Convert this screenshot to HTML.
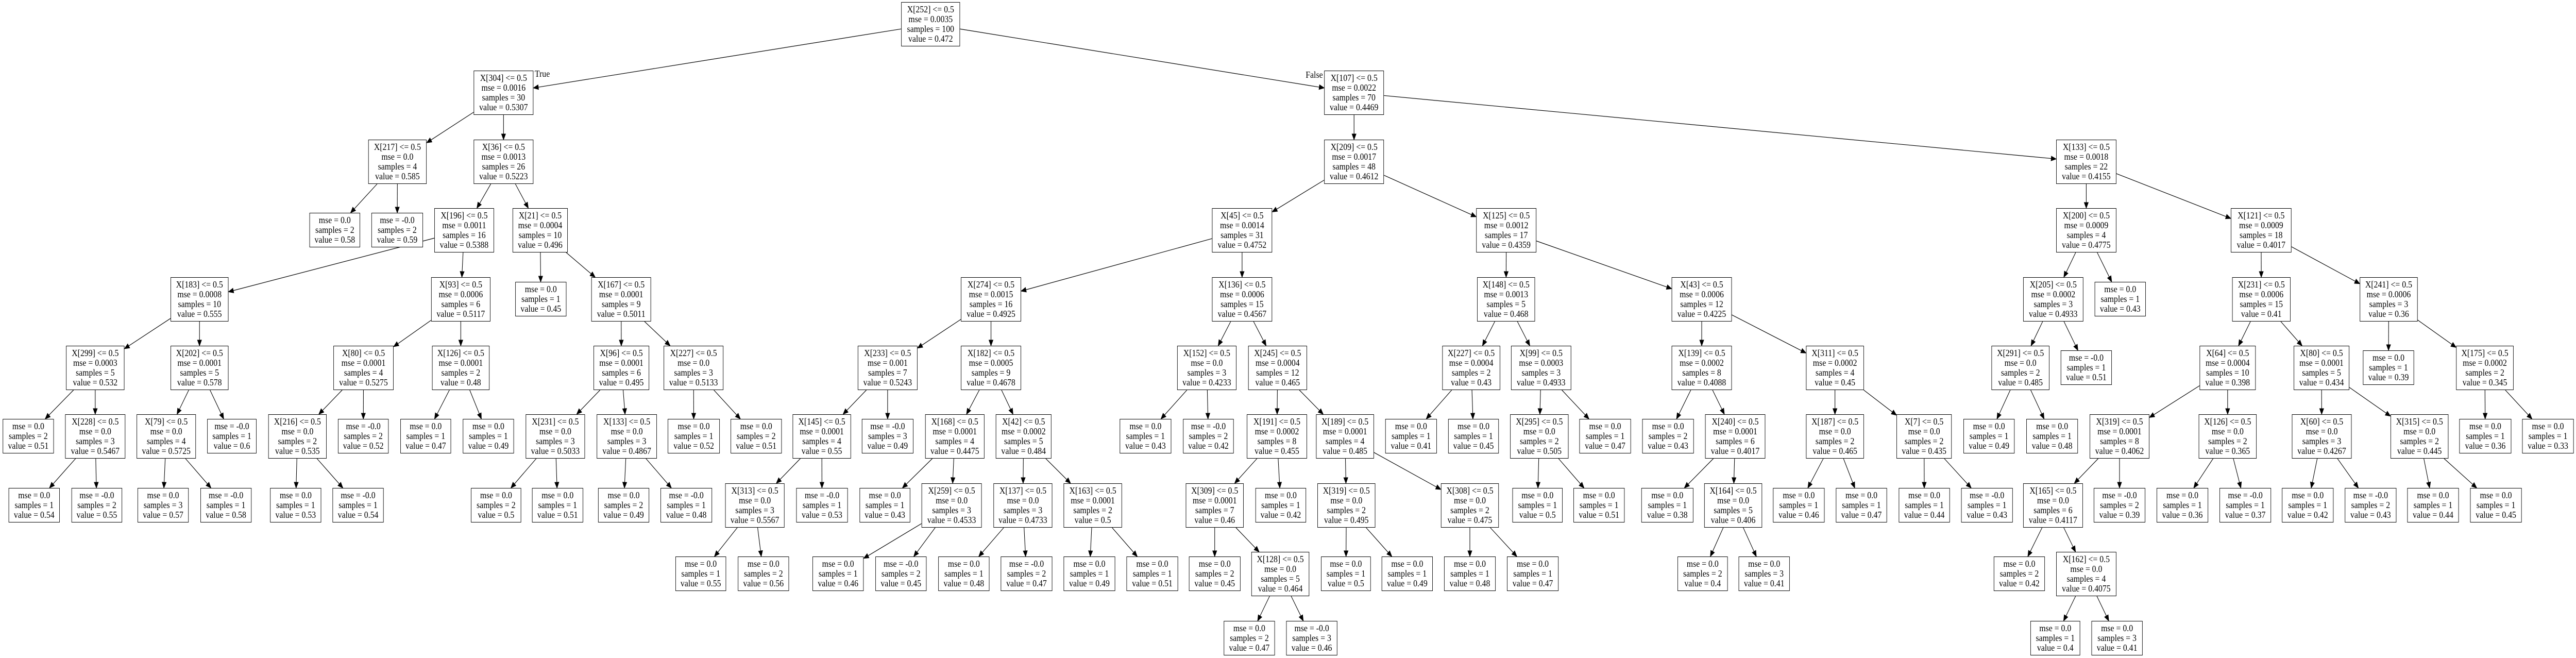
<!DOCTYPE html>
<html><head><meta charset="utf-8">
<style>
html,body{margin:0;padding:0;background:#fff;overflow:hidden}
#w{position:absolute;left:0;top:0;width:5694px;height:1277px;transform-origin:0 0;overflow:hidden;background:#fff}
.n{position:absolute;box-sizing:border-box;border:1.3px solid #000;height:86px;display:flex;align-items:center;justify-content:center;text-align:center;font:18px/19px "Liberation Serif",serif;white-space:nowrap;color:#000;background:#fff;overflow:hidden}
.l{height:67px}
.t{position:absolute;font:18px/19px "Liberation Serif",serif;white-space:nowrap}
svg{position:absolute;left:0;top:0}
</style></head><body>
<div id="w">
<svg id="s" width="5694" height="1277"></svg>
<div class="t" style="left:1182px;top:134px">True</div>
<div class="t" style="left:2886px;top:136px">False</div>

<div class="n" id="r" style="left:1992px;top:4px;width:130px">X[252] &lt;= 0.5<br>mse = 0.0035<br>samples = 100<br>value = 0.472</div>
<div class="n" id="a" style="left:1047px;top:137px;width:132px">X[304] &lt;= 0.5<br>mse = 0.0016<br>samples = 30<br>value = 0.5307</div>
<div class="n" id="b" style="left:2927px;top:137px;width:132px">X[107] &lt;= 0.5<br>mse = 0.0022<br>samples = 70<br>value = 0.4469</div>
<div class="n" id="a1" style="left:814px;top:271px;width:129px">X[217] &lt;= 0.5<br>mse = 0.0<br>samples = 4<br>value = 0.585</div>
<div class="n" id="a2" style="left:1047px;top:271px;width:132px">X[36] &lt;= 0.5<br>mse = 0.0013<br>samples = 26<br>value = 0.5223</div>
<div class="n l" id="a1l" style="left:684px;top:413px;width:112px">mse = 0.0<br>samples = 2<br>value = 0.58</div>
<div class="n l" id="a1r" style="left:821px;top:413px;width:114px">mse = -0.0<br>samples = 2<br>value = 0.59</div>
<div class="n" id="a21" style="left:960px;top:404px;width:132px">X[196] &lt;= 0.5<br>mse = 0.0011<br>samples = 16<br>value = 0.5388</div>
<div class="n" id="a22" style="left:1133px;top:404px;width:122px">X[21] &lt;= 0.5<br>mse = 0.0004<br>samples = 10<br>value = 0.496</div>
<div class="n" id="a211" style="left:377px;top:538px;width:128px">X[183] &lt;= 0.5<br>mse = 0.0008<br>samples = 10<br>value = 0.555</div>
<div class="n" id="a212" style="left:953px;top:538px;width:131px">X[93] &lt;= 0.5<br>mse = 0.0006<br>samples = 6<br>value = 0.5117</div>
<div class="n l" id="a221" style="left:1139px;top:547px;width:113px">mse = 0.0<br>samples = 1<br>value = 0.45</div>
<div class="n" id="a222" style="left:1307px;top:538px;width:132px">X[167] &lt;= 0.5<br>mse = 0.0001<br>samples = 9<br>value = 0.5011</div>
<div class="n" id="c1" style="left:146px;top:671px;width:129px">X[299] &lt;= 0.5<br>mse = 0.0003<br>samples = 5<br>value = 0.532</div>
<div class="n" id="c2" style="left:377px;top:671px;width:128px">X[202] &lt;= 0.5<br>mse = 0.0001<br>samples = 5<br>value = 0.578</div>
<div class="n" id="c3" style="left:737px;top:671px;width:133px">X[80] &lt;= 0.5<br>mse = 0.0001<br>samples = 4<br>value = 0.5275</div>
<div class="n" id="c4" style="left:955px;top:671px;width:127px">X[126] &lt;= 0.5<br>mse = 0.0001<br>samples = 2<br>value = 0.48</div>
<div class="n" id="c5" style="left:1312px;top:671px;width:123px">X[96] &lt;= 0.5<br>mse = 0.0001<br>samples = 6<br>value = 0.495</div>
<div class="n" id="c6" style="left:1467px;top:671px;width:132px">X[227] &lt;= 0.5<br>mse = 0.0<br>samples = 3<br>value = 0.5133</div>
<div class="n l" id="e1" style="left:6px;top:813px;width:113px">mse = 0.0<br>samples = 2<br>value = 0.51</div>
<div class="n" id="e2" style="left:144px;top:804px;width:133px">X[228] &lt;= 0.5<br>mse = 0.0<br>samples = 3<br>value = 0.5467</div>
<div class="n" id="e3" style="left:302px;top:804px;width:131px">X[79] &lt;= 0.5<br>mse = 0.0<br>samples = 4<br>value = 0.5725</div>
<div class="n l" id="e4" style="left:458px;top:813px;width:109px">mse = -0.0<br>samples = 1<br>value = 0.6</div>
<div class="n" id="e5" style="left:593px;top:804px;width:129px">X[216] &lt;= 0.5<br>mse = 0.0<br>samples = 2<br>value = 0.535</div>
<div class="n l" id="e6" style="left:747px;top:813px;width:112px">mse = -0.0<br>samples = 2<br>value = 0.52</div>
<div class="n l" id="e7" style="left:885px;top:813px;width:112px">mse = 0.0<br>samples = 1<br>value = 0.47</div>
<div class="n l" id="e8" style="left:1023px;top:813px;width:113px">mse = 0.0<br>samples = 1<br>value = 0.49</div>
<div class="n" id="e9" style="left:1162px;top:804px;width:131px">X[231] &lt;= 0.5<br>mse = 0.0<br>samples = 3<br>value = 0.5033</div>
<div class="n" id="e10" style="left:1319px;top:804px;width:133px">X[133] &lt;= 0.5<br>mse = 0.0<br>samples = 3<br>value = 0.4867</div>
<div class="n l" id="e11" style="left:1476px;top:813px;width:115px">mse = 0.0<br>samples = 1<br>value = 0.52</div>
<div class="n l" id="e12" style="left:1615px;top:813px;width:113px">mse = 0.0<br>samples = 2<br>value = 0.51</div>
<div class="n l" id="f1" style="left:19px;top:947px;width:113px">mse = 0.0<br>samples = 1<br>value = 0.54</div>
<div class="n l" id="f2" style="left:158px;top:947px;width:112px">mse = -0.0<br>samples = 2<br>value = 0.55</div>
<div class="n l" id="f3" style="left:304px;top:947px;width:113px">mse = 0.0<br>samples = 3<br>value = 0.57</div>
<div class="n l" id="f4" style="left:443px;top:947px;width:113px">mse = -0.0<br>samples = 1<br>value = 0.58</div>
<div class="n l" id="f5" style="left:597px;top:947px;width:113px">mse = 0.0<br>samples = 1<br>value = 0.53</div>
<div class="n l" id="f6" style="left:735px;top:947px;width:113px">mse = -0.0<br>samples = 1<br>value = 0.54</div>
<div class="n l" id="f7" style="left:1041px;top:947px;width:111px">mse = 0.0<br>samples = 2<br>value = 0.5</div>
<div class="n l" id="f8" style="left:1176px;top:947px;width:113px">mse = 0.0<br>samples = 1<br>value = 0.51</div>
<div class="n l" id="f9" style="left:1322px;top:947px;width:113px">mse = 0.0<br>samples = 2<br>value = 0.49</div>
<div class="n l" id="f10" style="left:1460px;top:947px;width:114px">mse = -0.0<br>samples = 1<br>value = 0.48</div>

<div class="n" id="g" style="left:2927px;top:271px;width:132px">X[209] &lt;= 0.5<br>mse = 0.0017<br>samples = 48<br>value = 0.4612</div>
<div class="n" id="h" style="left:4545px;top:271px;width:133px">X[133] &lt;= 0.5<br>mse = 0.0018<br>samples = 22<br>value = 0.4155</div>
<div class="n" id="g1" style="left:2679px;top:404px;width:133px">X[45] &lt;= 0.5<br>mse = 0.0014<br>samples = 31<br>value = 0.4752</div>
<div class="n" id="g2" style="left:3263px;top:404px;width:133px">X[125] &lt;= 0.5<br>mse = 0.0012<br>samples = 17<br>value = 0.4359</div>
<div class="n" id="g11" style="left:2124px;top:538px;width:133px">X[274] &lt;= 0.5<br>mse = 0.0015<br>samples = 16<br>value = 0.4925</div>
<div class="n" id="g12" style="left:2679px;top:538px;width:133px">X[136] &lt;= 0.5<br>mse = 0.0006<br>samples = 15<br>value = 0.4567</div>
<div class="n" id="g21" style="left:3265px;top:538px;width:128px">X[148] &lt;= 0.5<br>mse = 0.0013<br>samples = 5<br>value = 0.468</div>
<div class="n" id="g22" style="left:3695px;top:538px;width:133px">X[43] &lt;= 0.5<br>mse = 0.0006<br>samples = 12<br>value = 0.4225</div>
<div class="n" id="i1" style="left:1896px;top:671px;width:132px">X[233] &lt;= 0.5<br>mse = 0.001<br>samples = 7<br>value = 0.5243</div>
<div class="n" id="i2" style="left:2124px;top:671px;width:133px">X[182] &lt;= 0.5<br>mse = 0.0005<br>samples = 9<br>value = 0.4678</div>
<div class="n" id="i3" style="left:2602px;top:671px;width:131px">X[152] &lt;= 0.5<br>mse = 0.0<br>samples = 3<br>value = 0.4233</div>
<div class="n" id="i4" style="left:2759px;top:671px;width:130px">X[245] &lt;= 0.5<br>mse = 0.0004<br>samples = 12<br>value = 0.465</div>
<div class="n" id="i5" style="left:3188px;top:671px;width:128px">X[227] &lt;= 0.5<br>mse = 0.0004<br>samples = 2<br>value = 0.43</div>
<div class="n" id="i6" style="left:3340px;top:671px;width:133px">X[99] &lt;= 0.5<br>mse = 0.0003<br>samples = 3<br>value = 0.4933</div>
<div class="n" id="i7" style="left:3695px;top:671px;width:133px">X[139] &lt;= 0.5<br>mse = 0.0002<br>samples = 8<br>value = 0.4088</div>
<div class="n" id="i8" style="left:3992px;top:671px;width:128px">X[311] &lt;= 0.5<br>mse = 0.0002<br>samples = 4<br>value = 0.45</div>
<div class="n" id="j1" style="left:1752px;top:804px;width:129px">X[145] &lt;= 0.5<br>mse = 0.0001<br>samples = 4<br>value = 0.55</div>
<div class="n l" id="j2" style="left:1905px;top:813px;width:114px">mse = -0.0<br>samples = 3<br>value = 0.49</div>
<div class="n" id="j3" style="left:2045px;top:804px;width:131px">X[168] &lt;= 0.5<br>mse = 0.0001<br>samples = 4<br>value = 0.4475</div>
<div class="n" id="j4" style="left:2201px;top:804px;width:123px">X[42] &lt;= 0.5<br>mse = 0.0002<br>samples = 5<br>value = 0.484</div>
<div class="n l" id="j5" style="left:2475px;top:813px;width:114px">mse = 0.0<br>samples = 1<br>value = 0.43</div>
<div class="n l" id="j6" style="left:2615px;top:813px;width:112px">mse = -0.0<br>samples = 2<br>value = 0.42</div>
<div class="n" id="j7" style="left:2756px;top:804px;width:133px">X[191] &lt;= 0.5<br>mse = 0.0002<br>samples = 8<br>value = 0.455</div>
<div class="n" id="j8" style="left:2909px;top:804px;width:128px">X[189] &lt;= 0.5<br>mse = 0.0001<br>samples = 4<br>value = 0.485</div>
<div class="n l" id="j9" style="left:3062px;top:813px;width:114px">mse = 0.0<br>samples = 1<br>value = 0.41</div>
<div class="n l" id="j10" style="left:3201px;top:813px;width:112px">mse = 0.0<br>samples = 1<br>value = 0.45</div>
<div class="n" id="j11" style="left:3338px;top:804px;width:129px">X[295] &lt;= 0.5<br>mse = 0.0<br>samples = 2<br>value = 0.505</div>
<div class="n l" id="j12" style="left:3491px;top:813px;width:114px">mse = 0.0<br>samples = 1<br>value = 0.47</div>
<div class="n l" id="j13" style="left:3630px;top:813px;width:114px">mse = 0.0<br>samples = 2<br>value = 0.43</div>
<div class="n" id="j14" style="left:3769px;top:804px;width:133px">X[240] &lt;= 0.5<br>mse = 0.0001<br>samples = 6<br>value = 0.4017</div>
<div class="n" id="j15" style="left:3992px;top:804px;width:128px">X[187] &lt;= 0.5<br>mse = 0.0<br>samples = 2<br>value = 0.465</div>
<div class="n" id="j16" style="left:4192px;top:804px;width:122px">X[7] &lt;= 0.5<br>mse = 0.0<br>samples = 2<br>value = 0.435</div>
<div class="n" id="k1" style="left:1603px;top:938px;width:131px">X[313] &lt;= 0.5<br>mse = 0.0<br>samples = 3<br>value = 0.5567</div>
<div class="n l" id="k2" style="left:1760px;top:947px;width:114px">mse = -0.0<br>samples = 1<br>value = 0.53</div>
<div class="n l" id="k3" style="left:1900px;top:947px;width:112px">mse = 0.0<br>samples = 1<br>value = 0.43</div>
<div class="n" id="k4" style="left:2037px;top:938px;width:133px">X[259] &lt;= 0.5<br>mse = 0.0<br>samples = 3<br>value = 0.4533</div>
<div class="n" id="k5" style="left:2196px;top:938px;width:130px">X[137] &lt;= 0.5<br>mse = 0.0<br>samples = 3<br>value = 0.4733</div>
<div class="n" id="k6" style="left:2351px;top:938px;width:129px">X[163] &lt;= 0.5<br>mse = 0.0001<br>samples = 2<br>value = 0.5</div>
<div class="n" id="k7" style="left:2621px;top:938px;width:128px">X[309] &lt;= 0.5<br>mse = 0.0001<br>samples = 7<br>value = 0.46</div>
<div class="n l" id="k8" style="left:2775px;top:947px;width:112px">mse = 0.0<br>samples = 1<br>value = 0.42</div>
<div class="n" id="k9" style="left:2912px;top:938px;width:128px">X[319] &lt;= 0.5<br>mse = 0.0<br>samples = 2<br>value = 0.495</div>
<div class="n" id="k10" style="left:3185px;top:938px;width:128px">X[308] &lt;= 0.5<br>mse = 0.0<br>samples = 2<br>value = 0.475</div>
<div class="n l" id="k11" style="left:3343px;top:947px;width:111px">mse = 0.0<br>samples = 1<br>value = 0.5</div>
<div class="n l" id="k12" style="left:3478px;top:947px;width:113px">mse = 0.0<br>samples = 1<br>value = 0.51</div>
<div class="n l" id="k13" style="left:3628px;top:947px;width:115px">mse = 0.0<br>samples = 1<br>value = 0.38</div>
<div class="n" id="k14" style="left:3767px;top:938px;width:128px">X[164] &lt;= 0.5<br>mse = 0.0<br>samples = 5<br>value = 0.406</div>
<div class="n l" id="k15" style="left:3919px;top:947px;width:114px">mse = 0.0<br>samples = 1<br>value = 0.46</div>
<div class="n l" id="k16" style="left:4058px;top:947px;width:113px">mse = 0.0<br>samples = 1<br>value = 0.47</div>
<div class="n l" id="k17" style="left:4197px;top:947px;width:113px">mse = 0.0<br>samples = 1<br>value = 0.44</div>
<div class="n l" id="k18" style="left:4335px;top:947px;width:114px">mse = -0.0<br>samples = 1<br>value = 0.43</div>
<div class="n l" id="m1" style="left:1493px;top:1080px;width:112px">mse = 0.0<br>samples = 1<br>value = 0.55</div>
<div class="n l" id="m2" style="left:1631px;top:1080px;width:113px">mse = 0.0<br>samples = 2<br>value = 0.56</div>
<div class="n l" id="m3" style="left:1796px;top:1080px;width:113px">mse = 0.0<br>samples = 1<br>value = 0.46</div>
<div class="n l" id="m4" style="left:1935px;top:1080px;width:113px">mse = -0.0<br>samples = 2<br>value = 0.45</div>
<div class="n l" id="m5" style="left:2074px;top:1080px;width:113px">mse = 0.0<br>samples = 1<br>value = 0.48</div>
<div class="n l" id="m6" style="left:2212px;top:1080px;width:114px">mse = -0.0<br>samples = 2<br>value = 0.47</div>
<div class="n l" id="m7" style="left:2351px;top:1080px;width:114px">mse = 0.0<br>samples = 1<br>value = 0.49</div>
<div class="n l" id="m8" style="left:2490px;top:1080px;width:114px">mse = 0.0<br>samples = 1<br>value = 0.51</div>
<div class="n l" id="m9" style="left:2628px;top:1080px;width:114px">mse = 0.0<br>samples = 2<br>value = 0.45</div>
<div class="n" id="m10" style="left:2766px;top:1071px;width:128px">X[128] &lt;= 0.5<br>mse = 0.0<br>samples = 5<br>value = 0.464</div>
<div class="n l" id="m11" style="left:2920px;top:1080px;width:110px">mse = 0.0<br>samples = 1<br>value = 0.5</div>
<div class="n l" id="m12" style="left:3054px;top:1080px;width:113px">mse = 0.0<br>samples = 1<br>value = 0.49</div>
<div class="n l" id="m13" style="left:3192px;top:1080px;width:114px">mse = 0.0<br>samples = 1<br>value = 0.48</div>
<div class="n l" id="m14" style="left:3331px;top:1080px;width:114px">mse = 0.0<br>samples = 1<br>value = 0.47</div>
<div class="n l" id="m15" style="left:3708px;top:1080px;width:111px">mse = 0.0<br>samples = 2<br>value = 0.4</div>
<div class="n l" id="m16" style="left:3843px;top:1080px;width:113px">mse = 0.0<br>samples = 3<br>value = 0.41</div>
<div class="n l" id="p1" style="left:2705px;top:1205px;width:113px">mse = 0.0<br>samples = 2<br>value = 0.47</div>
<div class="n l" id="p2" style="left:2843px;top:1205px;width:113px">mse = -0.0<br>samples = 3<br>value = 0.46</div>

<div class="n" id="h1" style="left:4545px;top:404px;width:133px">X[200] &lt;= 0.5<br>mse = 0.0009<br>samples = 4<br>value = 0.4775</div>
<div class="n" id="h2" style="left:4931px;top:404px;width:134px">X[121] &lt;= 0.5<br>mse = 0.0009<br>samples = 18<br>value = 0.4017</div>
<div class="n" id="h11" style="left:4472px;top:538px;width:133px">X[205] &lt;= 0.5<br>mse = 0.0002<br>samples = 3<br>value = 0.4933</div>
<div class="n l" id="h12" style="left:4630px;top:547px;width:113px">mse = 0.0<br>samples = 1<br>value = 0.43</div>
<div class="n" id="h21" style="left:4934px;top:538px;width:129px">X[231] &lt;= 0.5<br>mse = 0.0006<br>samples = 15<br>value = 0.41</div>
<div class="n" id="h22" style="left:5216px;top:538px;width:128px">X[241] &lt;= 0.5<br>mse = 0.0006<br>samples = 3<br>value = 0.36</div>
<div class="n" id="q1" style="left:4402px;top:671px;width:128px">X[291] &lt;= 0.5<br>mse = 0.0<br>samples = 2<br>value = 0.485</div>
<div class="n l" id="q2" style="left:4555px;top:680px;width:113px">mse = -0.0<br>samples = 1<br>value = 0.51</div>
<div class="n" id="q3" style="left:4862px;top:671px;width:124px">X[64] &lt;= 0.5<br>mse = 0.0004<br>samples = 10<br>value = 0.398</div>
<div class="n" id="q4" style="left:5070px;top:671px;width:123px">X[80] &lt;= 0.5<br>mse = 0.0001<br>samples = 5<br>value = 0.434</div>
<div class="n l" id="q5" style="left:5223px;top:680px;width:113px">mse = 0.0<br>samples = 1<br>value = 0.39</div>
<div class="n" id="q6" style="left:5429px;top:671px;width:127px">X[175] &lt;= 0.5<br>mse = 0.0002<br>samples = 2<br>value = 0.345</div>
<div class="n l" id="s1" style="left:4340px;top:813px;width:113px">mse = 0.0<br>samples = 1<br>value = 0.49</div>
<div class="n l" id="s2" style="left:4479px;top:813px;width:114px">mse = 0.0<br>samples = 1<br>value = 0.48</div>
<div class="n" id="s3" style="left:4619px;top:804px;width:132px">X[319] &lt;= 0.5<br>mse = 0.0001<br>samples = 8<br>value = 0.4062</div>
<div class="n" id="s4" style="left:4860px;top:804px;width:128px">X[126] &lt;= 0.5<br>mse = 0.0<br>samples = 2<br>value = 0.365</div>
<div class="n" id="s5" style="left:5066px;top:804px;width:132px">X[60] &lt;= 0.5<br>mse = 0.0<br>samples = 3<br>value = 0.4267</div>
<div class="n" id="s6" style="left:5284px;top:804px;width:128px">X[315] &lt;= 0.5<br>mse = 0.0<br>samples = 2<br>value = 0.445</div>
<div class="n l" id="s7" style="left:5436px;top:813px;width:115px">mse = 0.0<br>samples = 1<br>value = 0.36</div>
<div class="n l" id="s8" style="left:5575px;top:813px;width:114px">mse = 0.0<br>samples = 1<br>value = 0.33</div>
<div class="n" id="u1" style="left:4472px;top:938px;width:132px">X[165] &lt;= 0.5<br>mse = 0.0<br>samples = 6<br>value = 0.4117</div>
<div class="n l" id="u2" style="left:4628px;top:947px;width:114px">mse = -0.0<br>samples = 2<br>value = 0.39</div>
<div class="n l" id="u3" style="left:4767px;top:947px;width:114px">mse = 0.0<br>samples = 1<br>value = 0.36</div>
<div class="n l" id="u4" style="left:4906px;top:947px;width:114px">mse = -0.0<br>samples = 1<br>value = 0.37</div>
<div class="n l" id="u5" style="left:5044px;top:947px;width:114px">mse = 0.0<br>samples = 1<br>value = 0.42</div>
<div class="n l" id="u6" style="left:5183px;top:947px;width:114px">mse = -0.0<br>samples = 2<br>value = 0.43</div>
<div class="n l" id="u7" style="left:5321px;top:947px;width:114px">mse = 0.0<br>samples = 1<br>value = 0.44</div>
<div class="n l" id="u8" style="left:5460px;top:947px;width:114px">mse = 0.0<br>samples = 1<br>value = 0.45</div>
<div class="n l" id="v1" style="left:4407px;top:1080px;width:113px">mse = 0.0<br>samples = 2<br>value = 0.42</div>
<div class="n" id="v2" style="left:4545px;top:1071px;width:133px">X[162] &lt;= 0.5<br>mse = 0.0<br>samples = 4<br>value = 0.4075</div>
<div class="n l" id="w1" style="left:4488px;top:1205px;width:110px">mse = 0.0<br>samples = 1<br>value = 0.4</div>
<div class="n l" id="w2" style="left:4623px;top:1205px;width:113px">mse = 0.0<br>samples = 3<br>value = 0.41</div>
</div>

<script>
(function(){
var E="r:a,b;a:a1,a2;a1:a1l,a1r;a2:a21,a22;a21:a211,a212;a22:a221,a222;a211:c1,c2;a212:c3,c4;a222:c5,c6;c1:e1,e2;c2:e3,e4;c3:e5,e6;c4:e7,e8;c5:e9,e10;c6:e11,e12;e2:f1,f2;e3:f3,f4;e5:f5,f6;e9:f7,f8;e10:f9,f10;b:g,h;g:g1,g2;g1:g11,g12;g2:g21,g22;g11:i1,i2;g12:i3,i4;g21:i5,i6;g22:i7,i8;i1:j1,j2;i2:j3,j4;i3:j5,j6;i4:j7,j8;i5:j9,j10;i6:j11,j12;i7:j13,j14;i8:j15,j16;j1:k1,k2;j3:k3,k4;j4:k5,k6;j7:k7,k8;j8:k9,k10;j11:k11,k12;j14:k13,k14;j15:k15,k16;j16:k17,k18;k1:m1,m2;k4:m3,m4;k5:m5,m6;k6:m7,m8;k7:m9,m10;k9:m11,m12;k10:m13,m14;k14:m15,m16;m10:p1,p2;h:h1,h2;h1:h11,h12;h2:h21,h22;h11:q1,q2;h21:q3,q4;h22:q5,q6;q1:s1,s2;q3:s3,s4;q4:s5,s6;q6:s7,s8;s3:u1,u2;s4:u3,u4;s5:u5,u6;s6:u7,u8;u1:v1,v2;v2:w1,w2";
var svg=document.getElementById('s'),out='';
function R(id){var e=document.getElementById(id);return {x:e.offsetLeft,y:e.offsetTop,w:e.offsetWidth,h:e.offsetHeight};}
function clip(r,dx,dy){var hw=r.w/2,hh=r.h/2,t=1e9;if(dx)t=Math.min(t,hw/Math.abs(dx));if(dy)t=Math.min(t,hh/Math.abs(dy));return t;}
E.split(';').forEach(function(s){var p=s.split(':'),P=R(p[0]);p[1].split(',').forEach(function(c){var C=R(c);
var px=P.x+P.w/2,py=P.y+P.h/2,cx=C.x+C.w/2,cy=C.y+C.h/2,dx=cx-px,dy=cy-py,L=Math.sqrt(dx*dx+dy*dy);dx/=L;dy/=L;
var t1=clip(P,dx,dy),t2=clip(C,dx,dy);var sx=px+dx*t1,sy=py+dy*t1,ex=cx-dx*t2,ey=cy-dy*t2;
var al=11,aw=4.5,bx=ex-dx*al,by=ey-dy*al;
out+='<line x1="'+sx+'" y1="'+sy+'" x2="'+bx+'" y2="'+by+'" stroke="#000" stroke-width="1.2"/>';
out+='<polygon points="'+ex+','+ey+' '+(bx-dy*aw)+','+(by+dx*aw)+' '+(bx+dy*aw)+','+(by-dx*aw)+'" fill="#000" stroke="#000"/>';
});});
svg.innerHTML=out;
function fit(){var w=window.innerWidth||document.documentElement.clientWidth,h=window.innerHeight||document.documentElement.clientHeight;
var kx=w/5694,ky=h/1277;if(!(kx>0))kx=1;if(!(ky>0))ky=1;if(kx>1)kx=1;if(ky>1)ky=1;
document.getElementById('w').style.transform=(kx<0.999||ky<0.999)?'scale('+kx+','+ky+')':'none';}
fit();window.addEventListener('resize',fit);
})();
</script>
</body></html>
